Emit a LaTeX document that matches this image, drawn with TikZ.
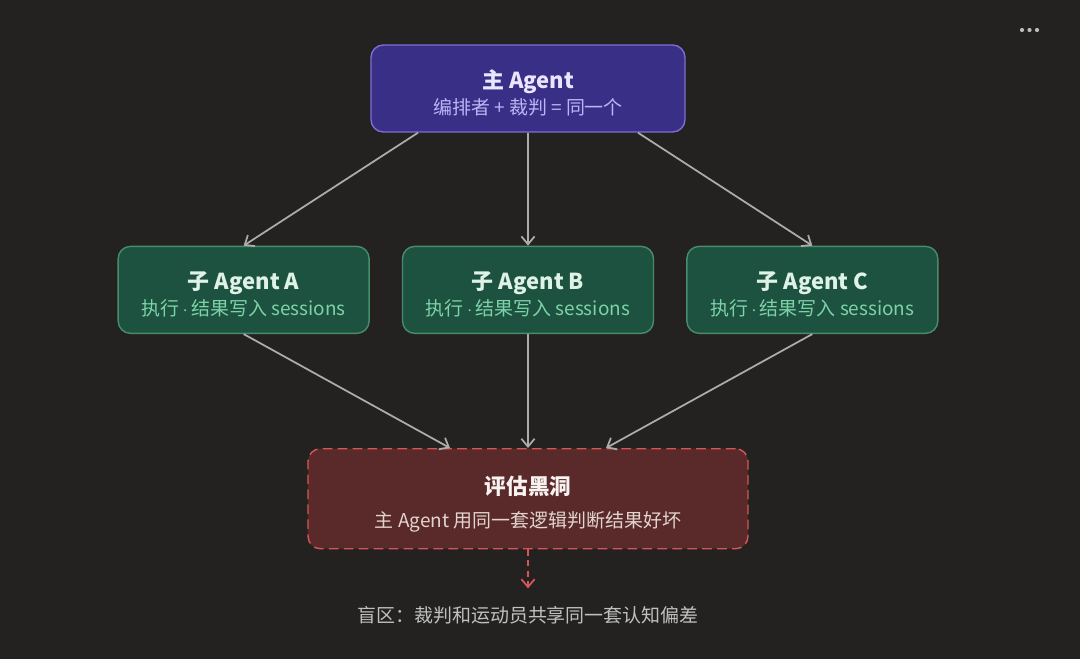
\documentclass[tikz,border=0pt]{standalone}
\usepackage{fontspec}
\setmainfont{Noto Sans CJK SC}
\usepackage{tikz}
\usetikzlibrary{arrows.meta, positioning}
\definecolor{bgdark}{RGB}{35,34,33}
\definecolor{mainfill}{RGB}{58,47,135}
\definecolor{mainline}{RGB}{125,110,215}
\definecolor{maintxt}{RGB}{234,230,255}
\definecolor{mainsub}{RGB}{190,180,245}
\definecolor{subfill}{RGB}{30,82,64}
\definecolor{subline}{RGB}{72,140,110}
\definecolor{subtxt}{RGB}{222,242,232}
\definecolor{subsub}{RGB}{125,210,168}
\definecolor{holefill}{RGB}{90,42,42}
\definecolor{holeline}{RGB}{212,86,86}
\definecolor{holetxt}{RGB}{248,242,240}
\definecolor{holesub}{RGB}{226,212,206}
\definecolor{arrgray}{RGB}{172,172,172}
\definecolor{blindtxt}{RGB}{192,192,192}

\begin{document}
\begin{tikzpicture}[
    x=0.02cm, y=-0.02cm,
    box/.style={draw,rounded corners=7pt,line width=0.8pt,inner sep=0pt,
      minimum height=1.74cm},
    agentbox/.style={box,fill=mainfill,draw=mainline,minimum width=6.28cm},
    workerbox/.style={box,fill=subfill,draw=subline,minimum width=5.02cm},
    holebox/.style={box,fill=holefill,draw=holeline,
      dash pattern=on 5.5pt off 3pt,minimum width=8.8cm,minimum height=2cm},
    ttl/.style={anchor=base,inner sep=0pt,font=\fontsize{12.5}{15}\selectfont\bfseries},
    desc/.style={anchor=base,inner sep=0pt,font=\fontsize{10.8}{13}\selectfont},
    arrow/.style={-{Straight Barb[length=4.5pt,width=7.5pt]},line width=1pt,arrgray}
  ]
  % background
  \fill[bgdark] (0,0) rectangle (1080,659);
  \useasboundingbox (0,0) rectangle (1080,659);
  \foreach \dx in {1022,1029.5,1037}
    \fill[blindtxt!110] (\dx,30) circle (2.1);

  % main agent
  \node[agentbox] (main) at (528,88.5) {};
  \node[ttl,maintxt] (mainT) at (main.center) {主 Agent};
  \node[desc,mainsub] (mainD) at ([yshift=-0.514cm]main.center)
    {编排者 + 裁判 = 同一个};

  % sub agents
  \node[workerbox,below=2.26cm of main] (subB) {};
  \node[workerbox,left=0.64cm of subB] (subA) {};
  \node[workerbox,right=0.64cm of subB] (subC) {};
  \foreach \s in {A,B,C}{
    \node[ttl,subtxt] (sub\s T) at (sub\s.center) {子 Agent \s};
    \node[desc,subsub] (sub\s D) at ([yshift=-0.514cm]sub\s.center)
      {执行\,$\cdot$\,结果写入 sessions};
  }

  % evaluation black hole
  \node[holebox,below=2.28cm of subB] (hole) {};
  \node[ttl,holetxt,font=\fontsize{12.3}{15}\selectfont\bfseries] (holeT)
    at ([yshift=0.076cm]hole.center) {评估黑洞};
  \node[desc,holesub] (holeD) at ([yshift=-0.584cm]hole.center)
    {主 Agent 用同一套逻辑判断结果好坏};

  \draw[arrow] ([xshift=-2.2cm]main.south) -- (subA.north);
  \draw[arrow] (main.south) -- (subB.north);
  \draw[arrow] ([xshift=2.2cm]main.south) -- (subC.north);
  \draw[arrow] (subA.south) -- ([xshift=-1.56cm]hole.north);
  \draw[arrow] (subB.south) -- (hole.north);
  \draw[arrow] (subC.south) -- ([xshift=1.56cm]hole.north);

  % blind spot
  \coordinate[below=0.78cm of hole.south] (blindtip);
  \draw[arrow,holeline,dash pattern=on 3.5pt off 2.5pt] (hole.south) -- (blindtip);
  \node[desc,blindtxt] (blind) at ([yshift=-0.68cm]blindtip)
    {盲区：裁判和运动员共享同一套认知偏差};
\end{tikzpicture}
\end{document}
